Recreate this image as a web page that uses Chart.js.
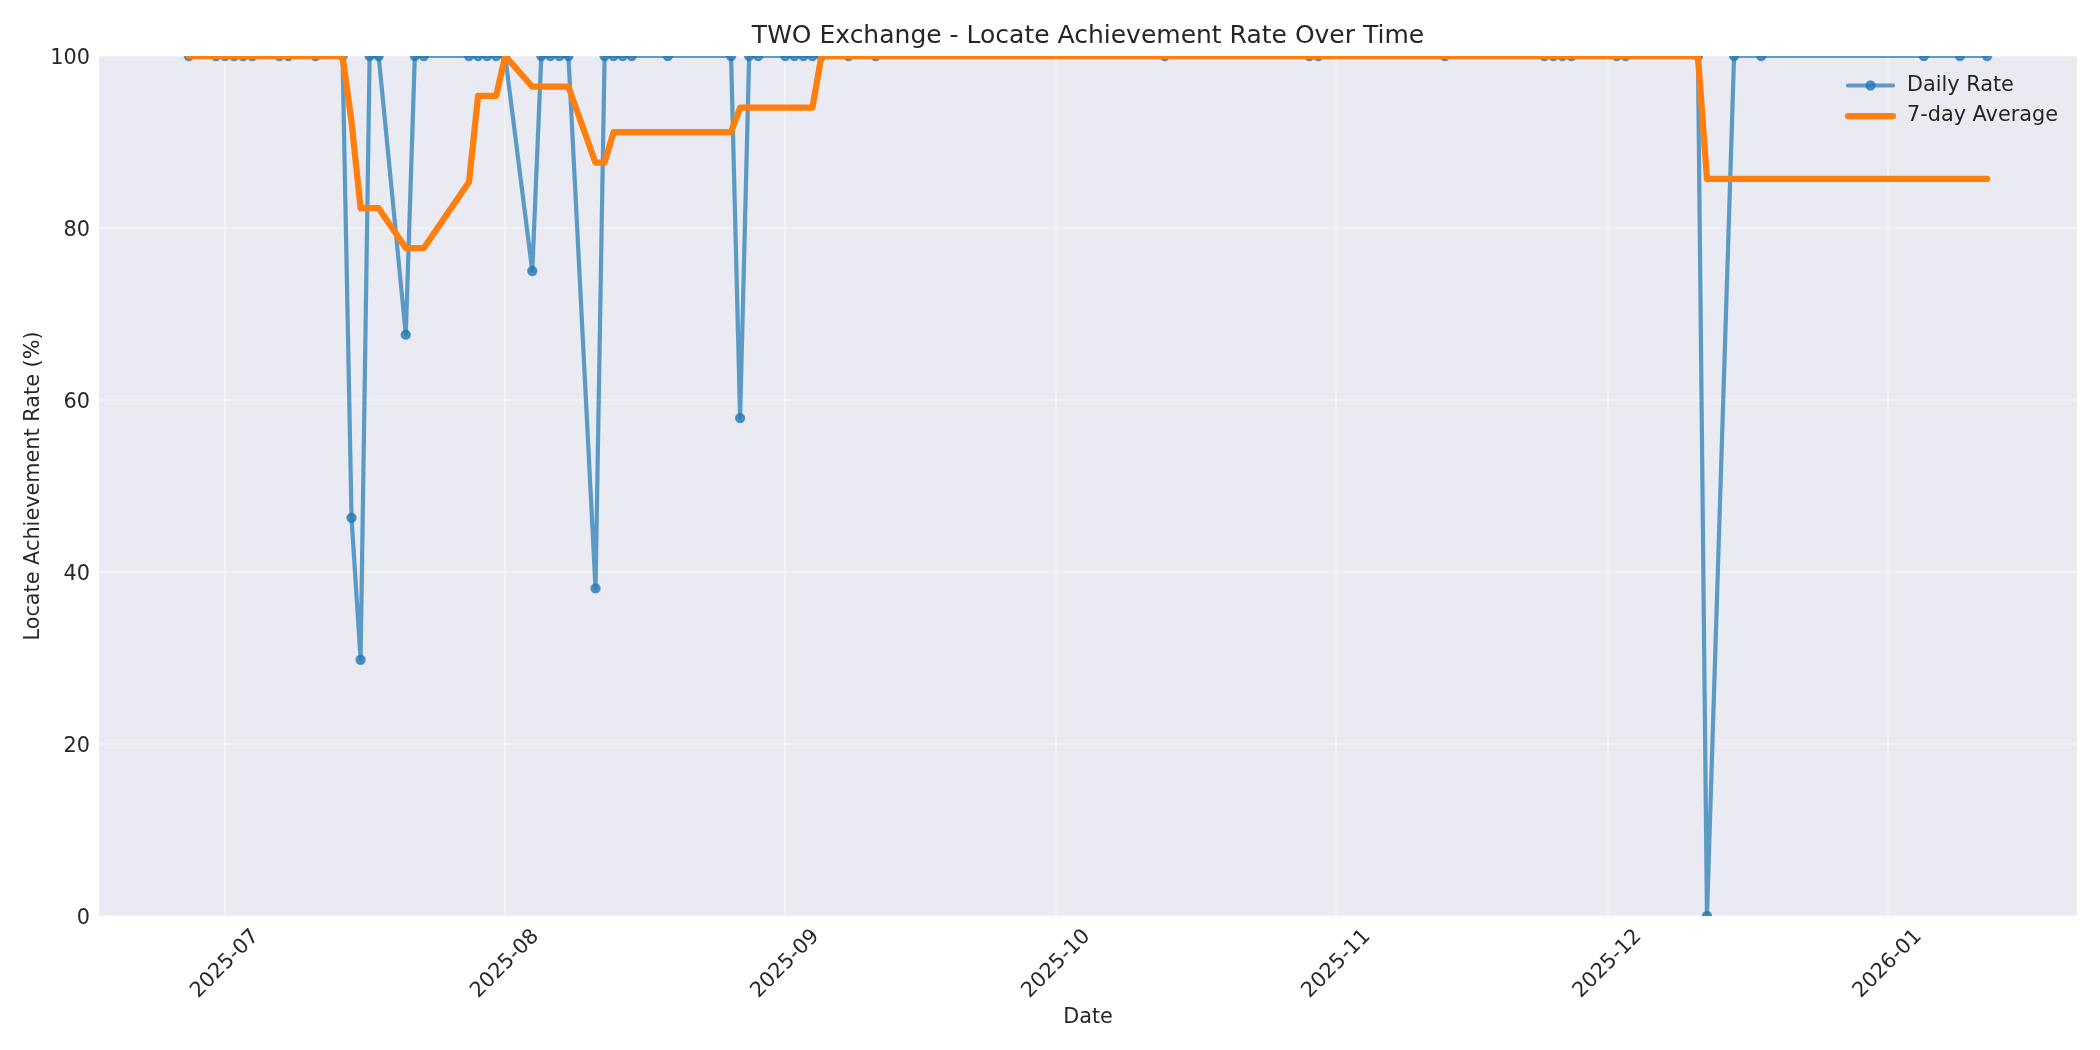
<!DOCTYPE html>
<html>
<head>
<meta charset="utf-8">
<script src="https://cdn.jsdelivr.net/npm/chart.js@4.4.1/dist/chart.umd.min.js"></script>
<style>
html,body{margin:0;padding:0;background:#ffffff;}
#wrap{width:2100px;height:1050px;position:relative;}
</style>
</head>
<body>
<div id="wrap"><canvas id="c"></canvas></div>
<script>
// ---------------- DATA ----------------
const dates = [
  '2025-06-27','2025-06-30','2025-07-01','2025-07-02','2025-07-03','2025-07-04',
  '2025-07-07','2025-07-08','2025-07-11','2025-07-14','2025-07-15','2025-07-16',
  '2025-07-17','2025-07-18','2025-07-21','2025-07-22','2025-07-23','2025-07-28',
  '2025-07-29','2025-07-30','2025-07-31','2025-08-01','2025-08-04','2025-08-05',
  '2025-08-06','2025-08-07','2025-08-08','2025-08-11','2025-08-12','2025-08-13',
  '2025-08-14','2025-08-15','2025-08-19','2025-08-26','2025-08-27','2025-08-28',
  '2025-08-29','2025-09-01','2025-09-02','2025-09-03','2025-09-04','2025-09-05',
  '2025-09-08','2025-09-11','2025-10-13','2025-10-29','2025-10-30','2025-11-13',
  '2025-11-24','2025-11-25','2025-11-26','2025-11-27','2025-12-02','2025-12-03',
  '2025-12-11','2025-12-12','2025-12-15','2025-12-18','2026-01-05','2026-01-09',
  '2026-01-12'
];
const dailyRate = [
  100,100,100,100,100,100,
  100,100,100,100,46.3,29.8,
  100,100,67.6,100,100,100,
  100,100,100,100,75,100,
  100,100,100,38.1,100,100,
  100,100,100,100,57.9,100,
  100,100,100,100,100,100,
  100,100,100,100,100,100,
  100,100,100,100,100,100,
  100,0,100,100,100,100,
  100
];
const sevenDayAvg = [
  100,100,100,100,100,100,
  100,100,100,100,92.33,82.30,
  82.30,82.30,77.67,77.67,77.67,85.34,
  95.37,95.37,95.37,100,96.43,96.43,
  96.43,96.43,96.43,87.59,87.59,91.16,
  91.16,91.16,91.16,91.16,93.99,93.99,
  93.99,93.99,93.99,93.99,93.99,100,
  100,100,100,100,100,100,
  100,100,100,100,100,100,
  100,85.71,85.71,85.71,85.71,85.71,
  85.71
];
const monthTicks = ['2025-07','2025-08','2025-09','2025-10','2025-11','2025-12','2026-01'];
const yTicks = [0,20,40,60,80,100];
const seriesLabels = ['Daily Rate','7-day Average'];
const chartTitle = 'TWO Exchange - Locate Achievement Rate Over Time';
const xTitle = 'Date';
const yTitle = 'Locate Achievement Rate (%)';

// ---------------- HELPERS ----------------
const DAY = 86400000;
const toDay = s => Date.parse(s + 'T00:00:00Z') / DAY;
const xs = dates.map(toDay);
const span = xs[xs.length - 1] - xs[0];
const xMin = xs[0] - span * 0.05;
const xMax = xs[xs.length - 1] + span * 0.05;
const monthPos = monthTicks.map(m => toDay(m + '-01'));

const FONT = "'DejaVu Sans', sans-serif";
const TXT = '#262626';
const FS = 20.8;
const BLUE = 'rgba(31,119,180,0.7)';
const ORANGE = '#ff7f0e';
const GRID = 'rgba(255,255,255,0.35)';

Chart.defaults.font.family = FONT;
Chart.defaults.color = TXT;

const bgPlugin = {
  id: 'bg',
  beforeDraw(chart) {
    const {ctx, chartArea: a} = chart;
    ctx.save();
    ctx.fillStyle = '#EAEAF2';
    ctx.fillRect(a.left, a.top, a.right - a.left, a.bottom - a.top);
    ctx.restore();
  }
};

const titleCenter = {
  id: 'titleCenter',
  afterLayout(chart) {
    const t = chart.titleBlock;
    if (t) { t.left = chart.chartArea.left; t.right = chart.chartArea.right; }
  }
};

const xLabels = {
  id: 'xLabels',
  afterDraw(chart) {
    const {ctx, chartArea: a} = chart;
    const sx = chart.scales.x;
    ctx.save();
    ctx.font = FS + 'px ' + FONT;
    ctx.fillStyle = TXT;
    ctx.textAlign = 'center';
    ctx.textBaseline = 'middle';
    monthTicks.forEach((lab, i) => {
      const px = sx.getPixelForValue(monthPos[i]);
      ctx.save();
      ctx.translate(px, a.bottom + 48);
      ctx.rotate(-Math.PI / 4);
      ctx.fillText(lab, 0, 0);
      ctx.restore();
    });
    ctx.restore();
  }
};

const legendPlugin = {
  id: 'mplLegend',
  afterDraw(chart) {
    const {ctx, chartArea: a} = chart;
    const x0 = a.right - 229, x1 = a.right - 184, tx = a.right - 170;
    const rows = [a.top + 29.5, a.top + 60];
    ctx.save();
    // Daily Rate handle
    ctx.strokeStyle = BLUE; ctx.lineWidth = 4.2; ctx.lineCap = 'round';
    ctx.beginPath(); ctx.moveTo(x0, rows[0]); ctx.lineTo(x1, rows[0]); ctx.stroke();
    ctx.fillStyle = BLUE; ctx.lineWidth = 2.08;
    ctx.beginPath(); ctx.arc((x0 + x1) / 2, rows[0], 4.17, 0, Math.PI * 2); ctx.fill(); ctx.stroke();
    // 7-day handle
    ctx.strokeStyle = ORANGE; ctx.lineWidth = 6.25;
    ctx.beginPath(); ctx.moveTo(x0, rows[1]); ctx.lineTo(x1, rows[1]); ctx.stroke();
    // texts
    ctx.fillStyle = TXT;
    ctx.font = FS + 'px ' + FONT;
    ctx.textAlign = 'left';
    ctx.textBaseline = 'middle';
    ctx.fillText(seriesLabels[0], tx, rows[0]);
    ctx.fillText(seriesLabels[1], tx, rows[1]);
    ctx.restore();
  }
};

new Chart(document.getElementById('c'), {
  type: 'line',
  data: {
    datasets: [
      {
        label: seriesLabels[0],
        data: xs.map((x, i) => ({x: x, y: dailyRate[i]})),
        borderColor: BLUE,
        backgroundColor: BLUE,
        pointBorderColor: BLUE,
        pointBackgroundColor: BLUE,
        borderWidth: 4.2,
        pointRadius: 4.17,
        pointBorderWidth: 2.08,
        pointHoverRadius: 4.17,
        borderJoinStyle: 'round',
        borderCapStyle: 'round',
        tension: 0,
        clip: 0,
        order: 1
      },
      {
        label: seriesLabels[1],
        data: xs.map((x, i) => ({x: x, y: sevenDayAvg[i]})),
        borderColor: ORANGE,
        backgroundColor: ORANGE,
        borderWidth: 6.25,
        pointRadius: 0,
        pointHoverRadius: 0,
        borderJoinStyle: 'round',
        borderCapStyle: 'round',
        tension: 0,
        clip: 0,
        order: 0
      }
    ]
  },
  options: {
    responsive: true,
    maintainAspectRatio: false,
    devicePixelRatio: 1,
    animation: false,
    layout: {padding: {top: 0, left: 0, right: 23, bottom: 0}},
    plugins: {
      legend: {display: false},
      tooltip: {enabled: false},
      title: {
        display: true,
        text: chartTitle,
        color: TXT,
        font: {size: 25, weight: 'normal', family: FONT},
        padding: {top: 21.7, bottom: 4.3}
      }
    },
    scales: {
      x: {
        type: 'linear',
        min: xMin,
        max: xMax,
        afterBuildTicks: s => { s.ticks = monthPos.map(v => ({value: v})); },
        ticks: {display: false},
        grid: {color: GRID, lineWidth: 2, drawTicks: false},
        border: {display: false},
        title: {display: true, text: xTitle, color: TXT, font: {size: FS}, padding: {top: 0, bottom: 19.5}},
        afterFit: s => { s.height = 134; }
      },
      y: {
        type: 'linear',
        min: 0,
        max: 100,
        afterBuildTicks: s => { s.ticks = yTicks.map(v => ({value: v})); },
        ticks: {color: TXT, font: {size: FS}, padding: 9, labelOffset: 2.5},
        grid: {color: GRID, lineWidth: 2, drawTicks: false},
        border: {display: false},
        title: {display: true, text: yTitle, color: TXT, font: {size: FS}, padding: {top: 21.5, bottom: 0}},
        afterFit: s => { s.width = 99; }
      }
    }
  },
  plugins: [bgPlugin, titleCenter, xLabels, legendPlugin]
});
</script>
</body>
</html>
